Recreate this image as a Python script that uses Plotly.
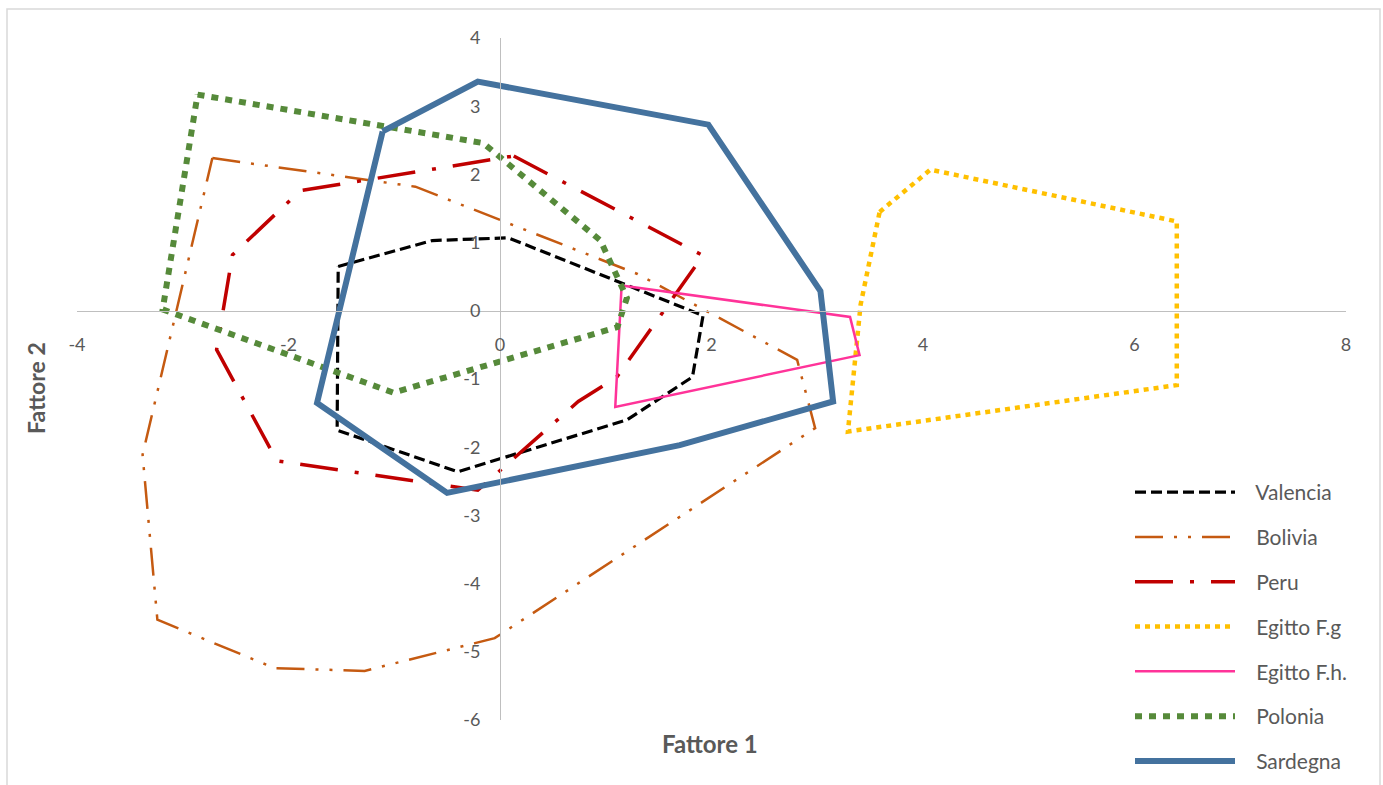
import plotly.graph_objects as go

# Factor scores (Fattore 1, Fattore 2) outlining each group's region
valencia_x = [-1.53, -0.64, 0.08, 1.92, 1.82, 1.20, -0.40, -1.54]
valencia_y = [0.65, 1.03, 1.07, -0.07, -0.97, -1.60, -2.36, -1.75]

bolivia_x = [-2.72, -0.80, 1.30, 2.81, 2.98, -0.05, -1.28, -2.13, -3.24, -3.38]
bolivia_y = [2.24, 1.82, 0.54, -0.72, -1.72, -4.80, -5.28, -5.24, -4.53, -2.11]

peru_x = [0.13, 1.92, 1.10, 0.74, -0.21, -2.11, -2.68, -2.53, -1.89]
peru_y = [2.27, 0.81, -0.98, -1.33, -2.63, -2.20, -0.57, 0.82, 1.76]

egitto_fg_x = [3.59, 4.07, 6.40, 6.40, 3.29, 3.41]
egitto_fg_y = [1.45, 2.07, 1.31, -1.09, -1.77, 0.09]

egitto_fh_x = [1.15, 3.31, 3.40, 1.09]
egitto_fh_y = [0.37, -0.09, -0.65, -1.41]

polonia_x = [-2.86, -0.16, 0.95, 1.20, 1.11, -1.01, -3.19]
polonia_y = [3.17, 2.46, 1.03, 0.19, -0.24, -1.20, 0.02]

sardegna_x = [-1.11, -0.21, 1.97, 3.03, 3.15, 1.70, -0.50, -1.73]
sardegna_y = [2.63, 3.36, 2.73, 0.29, -1.33, -1.97, -2.67, -1.35]

x_ticks = [-4, -2, 0, 2, 4, 6, 8]
x_tick_labels = ["-4", "-2", "0", "2", "4", "6", "8"]
y_ticks = [4, 3, 2, 1, 0, -1, -2, -3, -4, -5, -6]
y_tick_labels = ["4", "3", "2", "1", "0", "-1", "-2", "-3", "-4", "-5", "-6"]

FONT = "Lato"
GREY = "#595959"

series = [
    ("Valencia", valencia_x, valencia_y, "#000000", 3.2, "11px,5px"),
    ("Bolivia", bolivia_x, bolivia_y, "#C55A11", 2.5, "28px,11px,3px,11px,3px,11px"),
    ("Peru", peru_x, peru_y, "#C00000", 3.5, "38px,17px,4px,17px"),
    ("Egitto F.g", egitto_fg_x, egitto_fg_y, "#FFC000", 4.5, "5px,5px"),
    ("Egitto F.h.", egitto_fh_x, egitto_fh_y, "#FF3399", 2.5, "solid"),
    ("Polonia", polonia_x, polonia_y, "#568A3A", 6, "7px,7px"),
    ("Sardegna", sardegna_x, sardegna_y, "#44729E", 6, "solid"),
]

LEGEND_PAD = "\u00a0" * 3

fig = go.Figure()
for name, xs, ys, color, width, dash in series:
    fig.add_trace(go.Scatter(
        x=xs + xs[:1], y=ys + ys[:1],
        mode="lines", name=LEGEND_PAD + name, legendgroup=name,
        line=dict(color=color, width=width, dash=dash),
        hoverinfo="skip",
    ))

W, H = 1383, 785
L, R, T, B = 77, 37, 38, 65
pw, ph = W - L - R, H - T - B


def px_x(p):
    return (p - L) / pw


def px_y(p):
    return (H - B - p) / ph


axis_common = dict(
    showgrid=False, zeroline=False, showline=True,
    linecolor="#BFBFBF", linewidth=1, ticks="",
    tickfont=dict(family=FONT, size=18, color=GREY),
    anchor="free",
)

fig.update_layout(
    width=W, height=H,
    margin=dict(l=L, r=R, t=T, b=B, autoexpand=False),
    paper_bgcolor="white", plot_bgcolor="white",
    font=dict(family=FONT, color=GREY),
    xaxis=dict(range=[-4, 8], tickvals=x_ticks, ticktext=x_tick_labels,
               position=0.6, ticklabelstandoff=18, **axis_common),
    yaxis=dict(range=[-6, 4], tickvals=y_ticks, ticktext=y_tick_labels,
               position=4 / 12, ticklabelstandoff=16, **axis_common),
    showlegend=True,
    legend=dict(
        x=px_x(1130), y=px_y(472), xanchor="left", yanchor="top",
        font=dict(family=FONT, size=21, color=GREY),
        tracegroupgap=14.5, itemwidth=100,
        bgcolor="rgba(0,0,0,0)",
    ),
    annotations=[
        dict(text="<b>Fattore 1</b>", x=px_x(710), y=px_y(743),
             xref="paper", yref="paper", showarrow=False,
             xanchor="center", yanchor="middle",
             font=dict(family=FONT, size=24, color=GREY)),
        dict(text="<b>Fattore 2</b>", x=px_x(36), y=px_y(388),
             xref="paper", yref="paper", showarrow=False, textangle=-90,
             xanchor="center", yanchor="middle",
             font=dict(family=FONT, size=23, color=GREY)),
    ],
    shapes=[
        dict(type="rect", xref="paper", yref="paper",
             x0=px_x(7), x1=px_x(1380), y0=px_y(800), y1=px_y(9),
             line=dict(color="#D9D9D9", width=1.5), layer="below"),
    ],
)

fig.write_html("out.html")
